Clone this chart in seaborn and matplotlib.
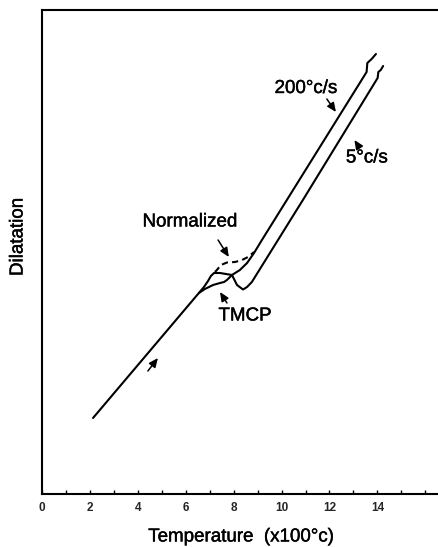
import matplotlib
matplotlib.use("Agg")
import matplotlib.pyplot as plt
import matplotlib.patheffects as pe
import seaborn as sns
import pandas as pd

# ---- data (temperature in x100 degC, dilatation in arbitrary units) ----
common_T = [2.13, 6.76, 6.93, 7.05, 7.18, 7.43, 7.68, 7.93]
common_D = [7.6, 20.7, 21.3, 21.8, 22.1, 22.1, 22.0, 21.9]

fast_T = [7.93, 8.26, 8.56, 8.85, 9.18, 13.55, 13.58, 13.76, 13.94]   # 200 C/s
fast_D = [21.9, 22.4, 23.1, 24.1, 25.4, 42.2, 43.1, 43.5, 44.0]

slow_T = [7.93, 8.14, 8.39, 8.56, 8.76, 10.89, 14.01, 14.04, 14.14, 14.24]  # 5 C/s
slow_D = [21.9, 20.9, 20.45, 20.7, 21.2, 29.4, 41.6, 42.2, 42.4, 42.8]

tmcp_T = [6.55, 6.80, 7.14, 7.43, 7.60, 7.72, 7.89]
tmcp_D = [20.1, 20.5, 20.9, 21.1, 21.2, 21.4, 21.8]

norm_T = [7.22, 7.30, 7.47, 7.72, 8.06, 8.35, 8.60, 8.85]
norm_D = [22.2, 22.4, 22.9, 23.15, 23.2, 23.4, 23.7, 24.2]

tick_major = [0, 2, 4, 6, 8, 10, 12, 14]
tick_minor = list(range(0, 17))

sns.set_theme(style="ticks")
plt.rcParams["font.family"] = ["Liberation Sans", "DejaVu Sans"]

fig = plt.figure(figsize=(4.38, 5.47), dpi=100)
ax = fig.add_axes([42 / 438, 53 / 547, 396 / 438, 484 / 547])

solid = pd.concat([
    pd.DataFrame({"T": common_T, "D": common_D, "c": "a"}),
    pd.DataFrame({"T": fast_T, "D": fast_D, "c": "b"}),
    pd.DataFrame({"T": slow_T, "D": slow_D, "c": "c"}),
    pd.DataFrame({"T": tmcp_T, "D": tmcp_D, "c": "d"}),
])
sns.lineplot(data=solid, x="T", y="D", units="c", estimator=None, sort=False,
             color="black", lw=1.5, ax=ax, legend=False)
sns.lineplot(x=norm_T, y=norm_D, sort=False, color="black", lw=1.5,
             ax=ax, legend=False, linestyle=(0, (3, 2)))

ax.set_xlim(0, 16.53)
ax.set_ylim(0, 48.4)

ax.set_xticks(tick_minor, minor=True)
ax.set_xticks(tick_major)
ax.set_xticklabels([str(t) for t in tick_major], fontsize=8.5, fontweight="bold")
ax.tick_params(axis="x", which="both", direction="in", length=3, width=1.0,
               pad=6, color="black")
ax.set_yticks([])

for s in ["left", "top", "bottom"]:
    ax.spines[s].set_visible(True)
    ax.spines[s].set_linewidth(1.5)
    ax.spines[s].set_color("black")
ax.spines["right"].set_visible(False)

thick = [pe.withStroke(linewidth=0.3, foreground="black")]

ax.set_xlabel("Temperature  (x100°c)", fontsize=13.5, color="black")
ax.xaxis.set_label_coords(0.5025, -0.0888)
ax.xaxis.label.set_va("center")
ax.xaxis.label.set_path_effects(thick)
ax.set_ylabel("Dilatation", fontsize=13.5, color="black")
ax.yaxis.set_label_coords(-0.0606, 0.531)
ax.yaxis.label.set_va("center")
ax.yaxis.label.set_path_effects(thick)

fs = 13.5
for (tx, ty, s, ha) in [(11.02, 40.55, "200°c/s", "center"),
                        (13.56, 33.6, "5°c/s", "center"),
                        (8.14, 27.2, "Normalized", "right"),
                        (8.47, 17.8, "TMCP", "center")]:
    ax.text(tx, ty, s, fontsize=fs, ha=ha, va="center", color="black",
            path_effects=thick)

arrow = dict(arrowstyle="-|>,head_length=0.45,head_width=0.2", color="black",
             lw=1.1, shrinkA=0, shrinkB=0)
for (tx, ty, hx, hy) in [(4.42, 12.3, 4.84, 13.6),
                         (7.35, 25.4, 7.80, 23.7),
                         (7.72, 19.1, 7.43, 20.2),
                         (11.89, 39.5, 12.27, 38.2),
                         (13.23, 34.7, 13.04, 35.4)]:
    ax.annotate("", xy=(hx, hy), xytext=(tx, ty), arrowprops=arrow)

fig.savefig("out.png", dpi=100)
